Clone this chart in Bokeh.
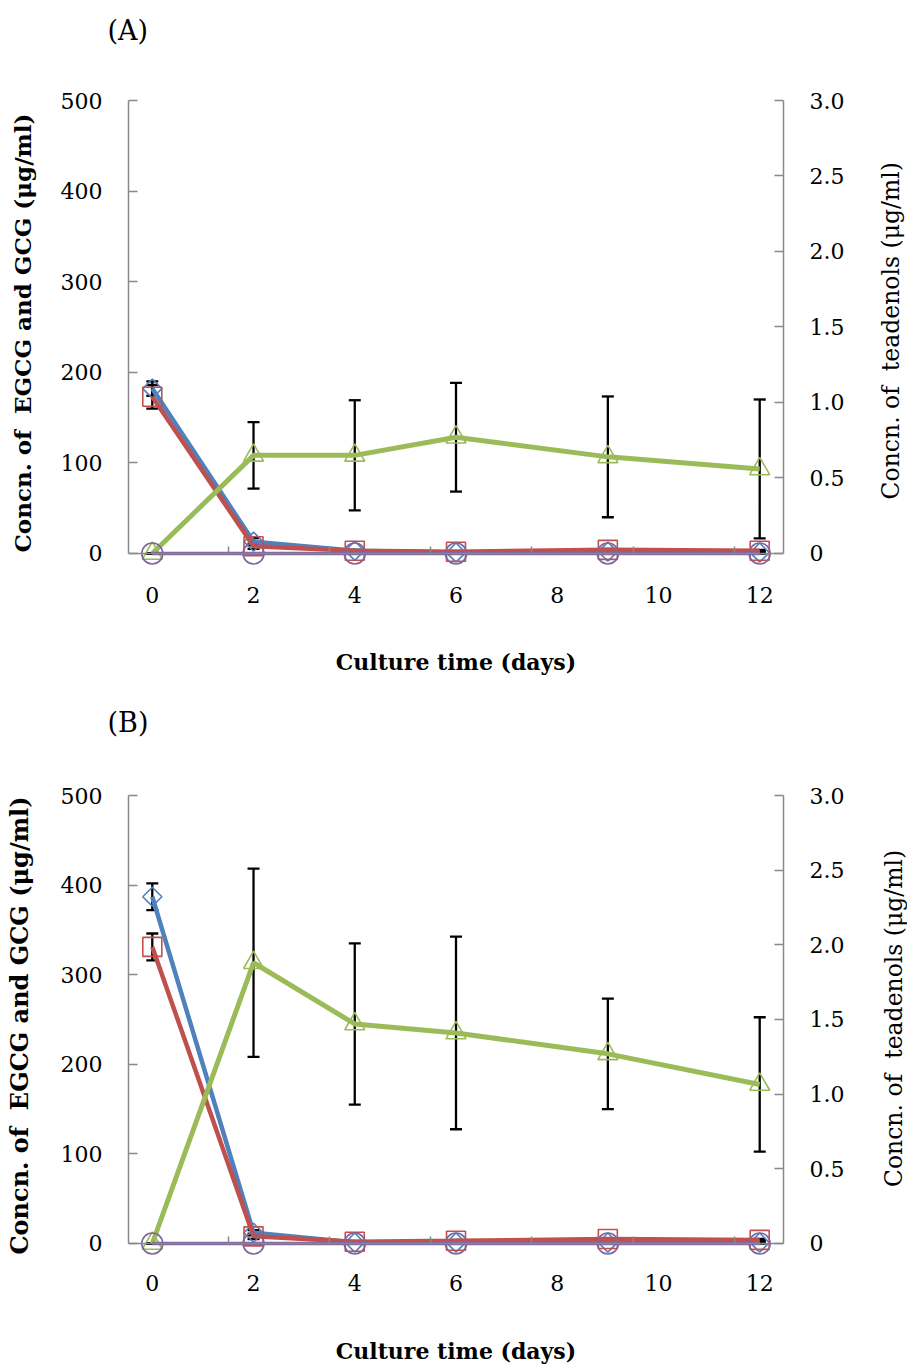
import math
from bokeh.plotting import figure
from bokeh.models import (Range1d, LinearAxis, FixedTicker, Whisker, TeeHead,
                          ColumnDataSource)
from bokeh.core.properties import value
from bokeh.layouts import column, row
from bokeh.embed import file_html
from bokeh.resources import INLINE

# ---------------- data ----------------
days = [0, 2, 4, 6, 9, 12]

egcg_a = [182, 13, 3, 1, 2, 1]
egcg_a_sd = [8, 4, 1, 1, 1, 1]
gcg_a = [173, 8, 3, 2, 4, 3]
gcg_a_sd = [13, 3, 1, 1, 1, 1]
teaA_a = [0, 0.65, 0.65, 0.77, 0.64, 0.56]
teaA_a_sd = [0, 0.22, 0.365, 0.36, 0.40, 0.46]
teaB_a = [0, 0, 0, 0, 0, 0]

egcg_b = [387, 12, 1, 1, 1, 1]
egcg_b_sd = [15, 3, 1, 1, 1, 1]
gcg_b = [331, 8, 2, 3, 5, 4]
gcg_b_sd = [15, 3, 1, 1, 1, 1]
teaA_b = [0, 1.88, 1.47, 1.41, 1.27, 1.065]
teaA_b_sd = [0, 0.63, 0.54, 0.645, 0.37, 0.45]
teaB_b = [0, 0, 0, 0, 0, 0]

x_ticks = [0, 2, 4, 6, 8, 10, 12]
x_minor = [1.5, 3.5, 5.5, 7.5, 9.5, 11.5]
left_ticks = [0, 100, 200, 300, 400, 500]
right_ticks = [0, 0.5, 1.0, 1.5, 2.0, 2.5, 3.0]
right_labels = {0: "0", 0.5: "0.5", 1: "1.0", 1.5: "1.5", 2: "2.0", 2.5: "2.5", 3: "3.0"}

panel_tags = ["(A)", "(B)"]
left_label = "Concn. of \u00a0EGCG and GCG (\u03bcg/ml)"
right_label = "Concn. of \u00a0teadenols (\u03bcg/ml)"
x_label = "Culture time (days)"

BLUE = "#4F81BD"
RED = "#C0504D"
GREEN = "#9BBB59"
PURPLE = "#8064A2"
AXIS = "#888888"
FONT = "DejaVu Serif"

X0, X1 = -0.47, 12.47
FW = 655
PW = 128 + FW + 66      # width of the chart figure
RW = 907 - PW           # width of the strip that holds the right-hand title


def blank_fig(width, height):
    t = figure(width=width, height=height, output_backend="svg",
               toolbar_location=None, x_range=Range1d(0, width),
               y_range=Range1d(0, height), min_border=0,
               x_axis_location=None, y_axis_location=None)
    t.grid.visible = False
    t.outline_line_color = None
    return t


def tag_fig(tag, height, ty):
    t = blank_fig(907, height)
    t.text(x=[107], y=[height - ty], text=[tag], text_font=value(FONT),
           text_font_size="27px", text_align="left", text_baseline="middle",
           text_color="black")
    return t


def right_title_fig(height, cy, cx):
    t = blank_fig(RW, height)
    t.text(x=[cx], y=[height - cy], text=[right_label], text_font=value(FONT),
           text_font_size="23.5px", text_align="center", text_baseline="middle",
           angle=math.pi / 2, text_color="black")
    return t


def make_panel(top, fh, bottom, ext, lfs, lstand, tstand, xstand,
               egcg, egcg_sd, gcg, gcg_sd, ta, ta_sd, tb):
    p = figure(frame_width=FW, frame_height=fh,
               output_backend="svg", toolbar_location=None,
               x_range=Range1d(X0, X1), y_range=Range1d(-ext, 500),
               min_border_left=128, min_border_right=PW - 128 - FW,
               min_border_top=top, min_border_bottom=bottom)
    p.extra_y_ranges = {"right": Range1d(-ext * 3.0 / 500, 3.0)}
    p.grid.visible = False
    p.outline_line_color = None
    p.background_fill_color = "white"
    p.border_fill_color = "white"

    # x axis line + inner ticks, drawn at y = 0
    xa = p.xaxis[0]
    xa.fixed_location = 0
    xa.ticker = FixedTicker(ticks=[], minor_ticks=x_minor)
    xa.major_tick_in = 0
    xa.major_tick_out = 0
    xa.minor_tick_in = 7
    xa.minor_tick_out = 0
    xa.minor_tick_line_color = AXIS
    xa.minor_tick_line_width = 1.5
    xa.axis_line_color = AXIS
    xa.axis_line_width = 1.5
    xa.major_label_standoff = 0

    # x tick labels and title (no line)
    xb = LinearAxis(ticker=FixedTicker(ticks=x_ticks))
    xb.axis_line_color = None
    xb.major_tick_line_color = None
    xb.minor_tick_line_color = None
    xb.major_tick_in = 0
    xb.major_tick_out = 0
    xb.major_label_text_font = FONT
    xb.major_label_text_font_size = "22px"
    xb.major_label_text_color = "black"
    xb.major_label_standoff = tstand
    xb.axis_label = x_label
    xb.axis_label_text_font = FONT
    xb.axis_label_text_font_style = "bold"
    xb.axis_label_text_font_size = "22px"
    xb.axis_label_text_color = "black"
    xb.axis_label_standoff = xstand
    p.add_layout(xb, "below")

    # left axis
    ya = p.yaxis[0]
    ya.bounds = (0, 500)
    ya.ticker = FixedTicker(ticks=left_ticks)
    ya.major_tick_in = 9
    ya.major_tick_out = 0
    ya.minor_tick_line_color = None
    ya.major_tick_line_color = AXIS
    ya.major_tick_line_width = 1.5
    ya.axis_line_color = AXIS
    ya.axis_line_width = 1.5
    ya.major_label_text_font = FONT
    ya.major_label_text_font_size = "22px"
    ya.major_label_text_color = "black"
    ya.major_label_standoff = 26
    ya.axis_label = left_label
    ya.axis_label_text_font = FONT
    ya.axis_label_text_font_style = "bold"
    ya.axis_label_text_font_size = lfs
    ya.axis_label_text_color = "black"
    ya.axis_label_standoff = lstand

    # right axis (its title is drawn in the strip to the right)
    ra = LinearAxis(y_range_name="right", bounds=(0, 3.0),
                    ticker=FixedTicker(ticks=right_ticks),
                    major_label_overrides=right_labels)
    ra.major_tick_in = 9
    ra.major_tick_out = 0
    ra.minor_tick_line_color = None
    ra.major_tick_line_color = AXIS
    ra.major_tick_line_width = 1.5
    ra.axis_line_color = AXIS
    ra.axis_line_width = 1.5
    ra.major_label_text_font = FONT
    ra.major_label_text_font_size = "22px"
    ra.major_label_text_color = "black"
    ra.major_label_standoff = 26
    p.add_layout(ra, "right")

    # error bars
    def whisk(vals, sds, rng=None):
        src = ColumnDataSource(dict(x=days,
                                    lo=[v - s for v, s in zip(vals, sds)],
                                    hi=[v + s for v, s in zip(vals, sds)]))
        kw = {}
        if rng:
            kw["y_range_name"] = rng
        w = Whisker(source=src, base="x", lower="lo", upper="hi",
                    line_color="black", line_width=2.3,
                    upper_head=TeeHead(size=12, line_color="black", line_width=2.3),
                    lower_head=TeeHead(size=12, line_color="black", line_width=2.3),
                    level="underlay", **kw)
        p.add_layout(w)

    whisk(egcg, egcg_sd)
    whisk(gcg, gcg_sd)
    whisk(ta, ta_sd, "right")

    # series
    p.line(days, egcg, line_color=BLUE, line_width=4.5)
    p.scatter(days, egcg, marker="square", angle=math.pi / 4, size=13.5,
              fill_color=None, line_color=BLUE, line_width=1.6)
    p.line(days, gcg, line_color=RED, line_width=4.5)
    p.scatter(days, gcg, marker="square", size=19, fill_color=None,
              line_color=RED, line_width=1.6)
    p.line(days, ta, line_color=GREEN, line_width=5, y_range_name="right")
    p.scatter(days, ta, marker="triangle", size=20, fill_color=None,
              line_color=GREEN, line_width=1.6, y_range_name="right")
    p.line(days, tb, line_color=PURPLE, line_width=3.5, y_range_name="right")
    p.scatter(days, tb, marker="circle", size=21, fill_color=None,
              line_color=PURPLE, line_width=1.6, y_range_name="right")
    return p


tA = tag_fig(panel_tags[0], 60, 30)
pA = make_panel(40, 465, 125, 13.25, "23px", 22, 21, 43,
                egcg_a, egcg_a_sd, gcg_a, gcg_a_sd, teaA_a, teaA_a_sd, teaB_a)
rA = right_title_fig(630, 312, 890 - PW)
tB = tag_fig(panel_tags[1], 60, 32)
pB = make_panel(45, 460, 112, 13.4, "24px", 24, 19, 44,
                egcg_b, egcg_b_sd, gcg_b, gcg_b_sd, teaA_b, teaA_b_sd, teaB_b)
rB = right_title_fig(617, 299, 893 - PW)

layout = column(tA, row(pA, rA, spacing=0), tB, row(pB, rB, spacing=0), spacing=0)
open("out.html", "w").write(file_html(layout, INLINE))
